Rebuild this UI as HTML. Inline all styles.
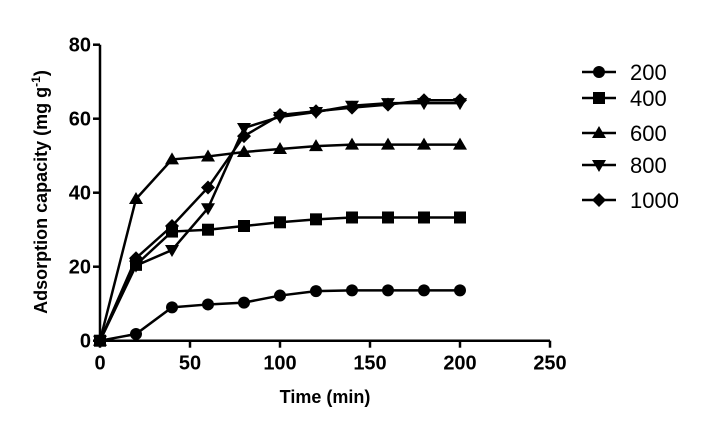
<!DOCTYPE html>
<html><head><meta charset="utf-8"><style>body{margin:0;background:#fff}svg{font-family:"Liberation Sans",Arial,sans-serif}</style></head>
<body>
<svg id="c" width="708" height="430"></svg>
<script>
const times=[0,20,40,60,80,100,120,140,160,180,200];
const s200=[0,1.8,9,9.8,10.3,12.2,13.4,13.6,13.6,13.6,13.6];
const s400=[0,20.5,29.5,30,31,32,32.8,33.3,33.3,33.3,33.3];
const s600=[0,38.3,49,49.8,51,51.8,52.6,53,53,53,53];
const s800=[0,20.3,24.5,35.8,57.5,60.5,61.8,63.5,64.2,64.2,64.2];
const s1000=[0,22.3,31,41.4,55.3,61,62,63,63.8,65,65];
const xTicks=[0,50,100,150,200,250];
const yTicks=[0,20,40,60,80];
const seriesNames=["200","400","600","800","1000"];
const NS="http://www.w3.org/2000/svg",svg=document.getElementById('c');
const X=v=>100+v*1.8, Y=v=>340.7-v*3.7;
function mk(t,a,p){const e=document.createElementNS(NS,t);for(const k in a)e.setAttribute(k,a[k]);(p||svg).appendChild(e);return e;}
let g=mk('g',{});

mk('line',{x1:X(0),y1:Y(0),x2:X(250),y2:Y(0),stroke:'#000','stroke-width':2.5},g);
xTicks.forEach(v=>{mk('line',{x1:X(v),y1:Y(0),x2:X(v),y2:Y(0)+7,stroke:'#000','stroke-width':2.5},g);
 const t=mk('text',{x:X(v),y:Y(0)+29,'text-anchor':'middle','font-size':20,'font-weight':'bold'},g);t.textContent=v;});
g=mk('g',{});

mk('line',{x1:X(0),y1:Y(0),x2:X(0),y2:Y(80),stroke:'#000','stroke-width':2.5},g);
yTicks.forEach(v=>{mk('line',{x1:X(0)-7,y1:Y(v),x2:X(0),y2:Y(v),stroke:'#000','stroke-width':2.5},g);
 const t=mk('text',{x:X(0)-9,y:Y(v)+7,'text-anchor':'end','font-size':20,'font-weight':'bold'},g);t.textContent=v;});
let t=mk('text',{x:325,y:403,'text-anchor':'middle','font-size':18,'font-weight':'bold'});t.textContent='Time (min)';

t=mk('text',{transform:'translate(47,192) rotate(-90)','text-anchor':'middle','font-size':18,'font-weight':'bold'});
t.innerHTML='Adsorption capacity (mg g<tspan dy="-7" font-size="12">-1</tspan><tspan dy="7">)</tspan>';

function marker(k,x,y,p){
 if(k===0)mk('circle',{cx:x,cy:y,r:6},p);
 else if(k===1)mk('rect',{x:x-6,y:y-6,width:12,height:12},p);
 else if(k===2)mk('polygon',{points:`${x},${y-7} ${x+7},${y+5} ${x-7},${y+5}`},p);
 else if(k===3)mk('polygon',{points:`${x},${y+7} ${x+7},${y-5} ${x-7},${y-5}`},p);
 else mk('polygon',{points:`${x},${y-7} ${x+7},${y} ${x},${y+7} ${x-7},${y}`},p);}
const all=[s200,s400,s600,s800,s1000];
const legY=[72,98,133,165,200];
all.forEach((s,k)=>{
 const sg=mk('g',{fill:'#000'});
 
 mk('polyline',{points:s.map((v,i)=>X(times[i])+','+Y(v)).join(' '),fill:'none',stroke:'#000','stroke-width':2.5},sg);
 s.forEach((v,i)=>marker(k,X(times[i]),Y(v),sg));
 const lg=mk('g',{fill:'#000'});
 
 mk('line',{x1:582,y1:legY[k],x2:616,y2:legY[k],stroke:'#000','stroke-width':2.5},lg);
 marker(k,599,legY[k],lg);
 const tt=mk('text',{x:630,y:legY[k]+8,'font-size':22},lg);tt.textContent=seriesNames[k];
});
</script>
</body></html>
